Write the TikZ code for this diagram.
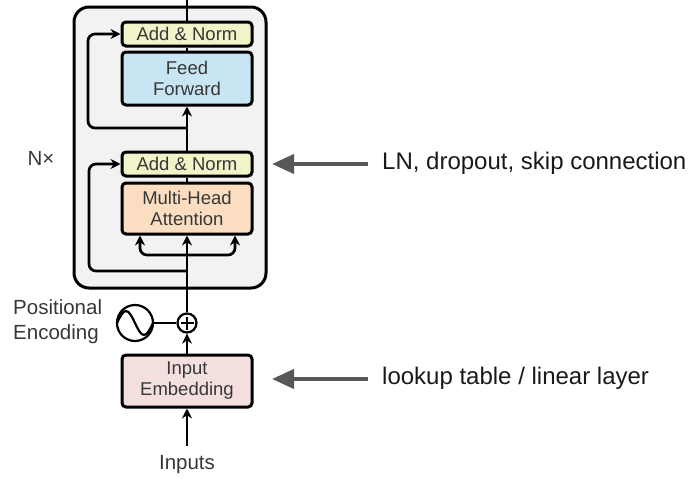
\documentclass[tikz,border=0pt]{standalone}
\usepackage{fontspec}
\setmainfont{Liberation Sans}
\usetikzlibrary{arrows.meta}
\definecolor{anfill}{RGB}{241,243,200}
\definecolor{fffill}{RGB}{199,229,243}
\definecolor{mhafill}{RGB}{251,222,194}
\definecolor{embfill}{RGB}{244,223,223}
\definecolor{outerfill}{RGB}{242,242,242}
\definecolor{txtgray}{RGB}{55,55,55}
\definecolor{arrgray}{RGB}{88,88,88}
\tikzset{
  blk/.style={draw=black, line width=3pt, rounded corners=4pt, minimum width=130pt,
    align=center, text=txtgray, font=\fontsize{18.5}{21}\selectfont, inner sep=0pt},
  conn/.style={draw=black, line width=2.7pt},
  arr/.style={conn, -{Stealth[length=10pt,width=10pt]}},
  garr/.style={draw=arrgray, line width=4pt, -{Triangle[length=22pt,width=19pt]}},
  lbl/.style={text=txtgray, font=\fontsize{20.5}{25}\selectfont, inner sep=0pt},
  side/.style={text=black!90, font=\fontsize{24}{28}\selectfont, inner sep=0pt, anchor=west}
}
\begin{document}
\begin{tikzpicture}[x=1pt,y=-1pt]
\path[use as bounding box] (0,0) rectangle (694,479);
% outer box
\draw[line width=3pt, fill=outerfill, rounded corners=15pt] (74,7) rectangle (266,288);
% blocks
\node[blk, fill=anfill, minimum height=24pt] (an2) at (187,34) {Add \& Norm};
\node[blk, fill=fffill, minimum height=53pt] (ff) at (187,78.5) {Feed\\Forward};
\node[blk, fill=anfill, minimum height=24pt] (an1) at (187,164) {Add \& Norm};
\node[blk, fill=mhafill, minimum height=51pt] (mha) at (187,208.5) {Multi-Head\\Attention};
\node[blk, fill=embfill, minimum height=52pt] (emb) at (187,381) {Input\\Embedding};
\node[draw=black, line width=2.2pt, circle, minimum size=19pt, inner sep=0pt, fill=white] (plus) at (187,323) {};
\draw[line width=2pt] ([yshift=-6.5pt]plus.center) -- ([yshift=6.5pt]plus.center)
  ([xshift=-6.5pt]plus.center) -- ([xshift=6.5pt]plus.center);
\node[draw=black, line width=2.2pt, circle, minimum size=36pt, inner sep=0pt] (sine) at (135,323) {};
\draw[line width=2.2pt] (117,323) sin (126,311) cos (135,323) sin (144,335) cos (153,323);
% labels
\node[lbl] (inputs) at (187,465) {Inputs};
\node[lbl, anchor=west, align=left] (pe) at (13,322) {Positional\\Encoding};
\node[lbl] (nx) at (41,158) {N\texttimes};
% connectors
\coordinate (top) at (187,0);
\coordinate (inbot) at (187,446);
\draw[arr] (inbot) -- (emb.south);
\draw[arr] (emb.north) -- (plus.south);
\draw[conn] (sine.east) -- (plus.west);
\draw[arr] (plus.north) -- (mha.south);
\draw[arr, rounded corners=7pt] (187,255) -| ([xshift=-47pt]mha.south);
\draw[arr, rounded corners=7pt] (187,255) -| ([xshift=48pt]mha.south);
\draw[arr, rounded corners=7pt] (187,271) -| (89,164) -- (an1.west);
\draw[conn] (mha.north) -- (an1.south);
\draw[arr] (an1.north) -- (ff.south);
\draw[arr, rounded corners=7pt] (187,128) -| (88,34) -- (an2.west);
\draw[conn] (ff.north) -- (an2.south);
\draw[conn] (an2.north) -- (top);
% side annotations
\node[side] (t1) at (382,163) {LN, dropout, skip connection};
\node[side] (t2) at (382,378) {lookup table / linear layer};
\coordinate (a1) at (272,164);
\coordinate (a2) at (272,379);
\draw[garr] (368,164) -- (a1);
\draw[garr] (368,379) -- (a2);
\end{tikzpicture}
\end{document}
